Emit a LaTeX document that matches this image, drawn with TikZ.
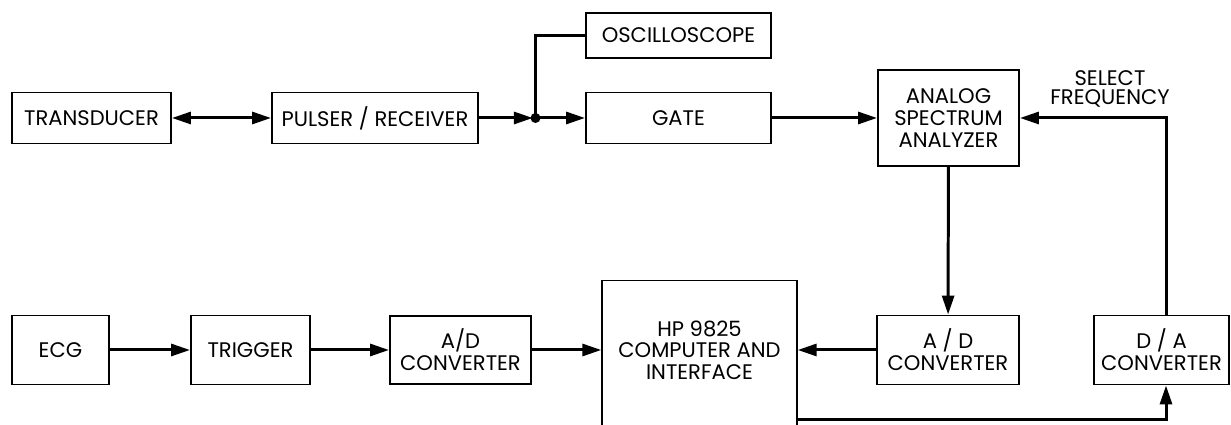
\documentclass[tikz,border=0pt]{standalone}
\usepackage{fontspec}
\setmainfont{Poppins}
\usetikzlibrary{arrows.meta, positioning, calc}

\begin{document}
\begin{tikzpicture}[
    block/.style={draw, line width=1.1pt, inner sep=0, align=center, font=\fontsize{12}{12.6}\selectfont},
    wire/.style={line width=1.7pt},
    >={Triangle[length=0.38cm, width=0.24cm]}
]
  \clip (0,0) rectangle (24.62,8.5);

  % Ultrasound path
  \node[block, minimum width=3.18cm, minimum height=1.02cm] (trans) at (1.83, 6.14) {TRANSDUCER};
  \node[block, minimum width=4.12cm, minimum height=1.02cm] (pulser) at (7.5, 6.14) {PULSER / RECEIVER};
  \coordinate (split) at (10.71, 6.14);
  \node[block, minimum width=3.7cm, minimum height=0.9cm] (osc) at (13.57, 7.79) {OSCILLOSCOPE};
  \node[block, minimum width=3.7cm, minimum height=1.02cm] (gate) at (13.57, 6.14) {GATE};
  \node[block, minimum width=2.82cm, minimum height=1.92cm] (asa) at (18.97, 6.14) {ANALOG\\SPECTRUM\\ANALYZER};
  \node[align=center, font=\fontsize{12}{11}\selectfont] (selfreq) at (22.2, 6.72) {SELECT\\FREQUENCY};

  % ECG path and computer
  \node[block, minimum width=1.94cm, minimum height=1.38cm] (ecg) at (1.21, 1.5) {ECG};
  \node[block, minimum width=2.38cm, minimum height=1.38cm] (trig) at (5.01, 1.5) {TRIGGER};
  \node[block, minimum width=2.82cm, minimum height=1.36cm] (adl) at (9.21, 1.5) {A/D\\CONVERTER};
  \node[block, line width=0.8pt, minimum width=3.9cm, minimum height=4cm, anchor=north] (hp) at (13.99, 2.9) {};
  \node[align=center, font=\fontsize{12}{12.2}\selectfont] (hptext) at (13.99, 1.5) {HP 9825\\COMPUTER AND\\INTERFACE};
  \node[block, minimum width=2.84cm, minimum height=1.38cm] (adr) at (18.96, 1.5) {A / D\\CONVERTER};
  \node[block, minimum width=2.7cm, minimum height=1.38cm] (da) at (23.23, 1.5) {D / A\\CONVERTER};

  % Connections
  \draw[wire, <->] (trans) -- (pulser);
  \draw[wire, ->, shorten >=1.5pt] (pulser) -- (split);
  \fill (split) circle (0.1);
  \draw[wire] (split) |- (osc.west);
  \draw[wire, ->] (split) -- (gate);
  \draw[wire, ->] (gate) -- (asa);
  \draw[wire, ->] (asa) -- (adr);
  \draw[wire, ->] ([xshift=0.09cm]da.north) |- (asa.east);

  \draw[wire, ->] (ecg) -- (trig);
  \draw[wire, ->] (trig) -- (adl);
  \draw[wire, ->] (adl) -- (hp.west |- adl);
  \draw[wire, ->] (adr) -- (hp.east |- adr);
  \draw[wire, ->] (hp.east |- 0,0.1) -| ([xshift=0.09cm]da.south);
\end{tikzpicture}
\end{document}
